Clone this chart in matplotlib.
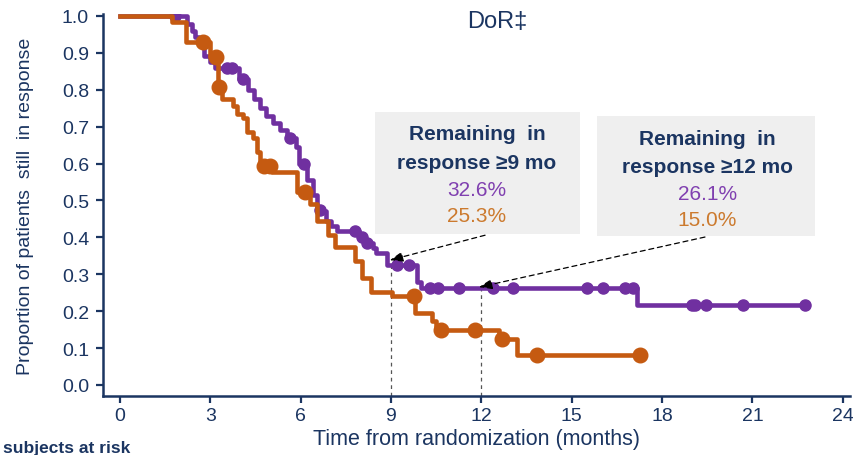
import matplotlib
matplotlib.use("Agg")
import matplotlib.pyplot as plt
from matplotlib.patches import Rectangle

plt.rcParams["font.family"] = ["Liberation Sans Narrow", "Liberation Sans", "DejaVu Sans"]

NAVY = "#1B3561"
PURPLE = "#7030A0"
ORANGE = "#C55A11"

# ---- Kaplan-Meier step data (time in months, proportion still in response) ----
purple_t = [0, 2.23, 2.39, 2.50, 2.62, 2.79, 3.00, 3.15, 3.95, 4.25, 4.45, 4.65, 4.85,
            5.10, 5.30, 5.55, 5.85, 5.95, 6.20, 6.40, 6.55, 6.75, 6.85, 7.00, 7.20,
            7.95, 8.15, 8.40, 8.50, 8.87, 9.85, 10.00, 17.16, 22.74]
purple_s = [1.0, 0.978, 0.959, 0.943, 0.920, 0.892, 0.875, 0.860, 0.830, 0.800, 0.775,
            0.750, 0.730, 0.710, 0.690, 0.670, 0.645, 0.600, 0.555, 0.515, 0.475, 0.470,
            0.445, 0.430, 0.416, 0.400, 0.384, 0.370, 0.357, 0.326, 0.280, 0.262, 0.216,
            0.216]
purple_cens_t = [1.83, 3.55, 3.72, 4.08, 5.64, 6.10, 6.64, 7.80, 8.05, 8.20, 9.20, 9.60,
                 10.29, 10.56, 11.25, 12.38, 13.05, 15.50, 16.03, 16.76, 17.03,
                 18.99, 19.09, 19.45, 20.68, 22.74]
purple_cens_s = [1.0, 0.86, 0.86, 0.83, 0.67, 0.60, 0.475, 0.416, 0.40, 0.384, 0.326, 0.326,
                 0.262, 0.262, 0.262, 0.262, 0.262, 0.262, 0.262, 0.262, 0.262,
                 0.216, 0.216, 0.216, 0.216, 0.216]

orange_t = [0, 1.73, 2.19, 3.00, 3.25, 3.40, 3.75, 3.88, 4.08, 4.22, 4.42, 4.55, 4.65,
            4.75, 5.05, 5.88, 6.30, 6.55, 6.90, 7.15, 7.80, 8.05, 8.35, 9.05, 9.80,
            10.35, 10.50, 12.60, 13.20, 17.26]
orange_s = [1.0, 0.984, 0.928, 0.889, 0.808, 0.776, 0.757, 0.735, 0.722, 0.686, 0.668,
            0.632, 0.605, 0.592, 0.578, 0.524, 0.490, 0.445, 0.405, 0.375, 0.335, 0.290,
            0.253, 0.240, 0.195, 0.173, 0.149, 0.125, 0.081, 0.081]
orange_cens_t = [2.75, 3.19, 3.30, 4.78, 5.00, 6.14, 9.75, 10.65, 11.78, 12.70, 13.85, 17.26]
orange_cens_s = [0.928, 0.889, 0.808, 0.592, 0.592, 0.524, 0.240, 0.149, 0.149, 0.125,
                 0.081, 0.081]

landmark_t = [9, 12]
landmark_purple = [0.326, 0.261]
landmark_orange = [0.253, 0.150]
x_ticks = [0, 3, 6, 9, 12, 15, 18, 21, 24]
y_ticks = [0.0, 0.1, 0.2, 0.3, 0.4, 0.5, 0.6, 0.7, 0.8, 0.9, 1.0]

fig = plt.figure(figsize=(8.54, 4.56), dpi=100)
ax = fig.add_axes([0.1206, 0.1294, 0.8744, 0.8376])

ax.step(purple_t, purple_s, where="post", color=PURPLE, lw=3.3, zorder=3)
ax.plot(purple_cens_t, purple_cens_s, "o", color=PURPLE, ms=8, zorder=4)
ax.step(orange_t, orange_s, where="post", color=ORANGE, lw=3.3, zorder=5)
ax.plot(orange_cens_t, orange_cens_s, "o", color=ORANGE, ms=10.5, zorder=6)

# dashed landmark lines
for t, s in zip(landmark_t, landmark_purple):
    ax.vlines(t, -0.03, s, colors="#555555", linestyles=(0, (3, 3)), lw=0.9, zorder=2)

ax.set_xlim(-0.56, 24.23)
ax.set_ylim(-0.03, 1.005)
ax.set_xticks(x_ticks)
ax.set_yticks(y_ticks)
ax.set_yticklabels([f"{v:.1f}" for v in y_ticks])
for side in ["top", "right"]:
    ax.spines[side].set_visible(False)
for side in ["left", "bottom"]:
    ax.spines[side].set_color(NAVY)
    ax.spines[side].set_linewidth(1.8)
ax.tick_params(colors=NAVY, width=1.6, length=5, labelsize=14, direction="out")
ax.tick_params(axis="y", pad=5)
ax.tick_params(axis="x", pad=3)
ax.set_xlabel("Time from randomization (months)", fontsize=15.5, color=NAVY, labelpad=3)
ax.set_ylabel("Proportion of patients  still  in response", fontsize=14, color=NAVY,
              labelpad=20)

fig.text(0.582, 0.952, "DoR\u2021", fontsize=17, color=NAVY, ha="center", va="center",
         family=["Liberation Sans", "DejaVu Sans"])
fig.text(0.003, 0.016, "subjects at risk", fontsize=12.5, color=NAVY, ha="left",
         va="center", fontweight="bold", family=["Liberation Sans", "DejaVu Sans"])

# annotation boxes
boxes = [(0.439, 0.4846, 0.240, 0.2675, 0.5585, "\u22659"),
         (0.699, 0.480, 0.255, 0.263, 0.828, "\u226512")]
for i, (x0, y0, w, h, cx, lab) in enumerate(boxes):
    fig.patches.append(Rectangle((x0, y0), w, h, transform=fig.transFigure,
                                 facecolor="#EFEFEF", edgecolor="none", zorder=0))
    top = y0 + h
    tf = dict(ha="center", va="center", family=["Liberation Sans", "DejaVu Sans"])
    fig.text(cx, top - 0.048, "Remaining  in", fontsize=15, color=NAVY,
             fontweight="bold", **tf)
    fig.text(cx, top - 0.11, f"response {lab} mo", fontsize=15, color=NAVY,
             fontweight="bold", **tf)
    fig.text(cx, top - 0.17, f"{landmark_purple[i] * 100:.1f}%", fontsize=15,
             color="#8040B0", **tf)
    fig.text(cx, top - 0.227, f"{landmark_orange[i] * 100:.1f}%", fontsize=15,
             color="#CC7A2E", **tf)

# dashed arrows from boxes to curve
arrow_starts = [(0.568, 0.482), (0.8255, 0.478)]
arrow_ends = [(8.96, 0.338), (11.92, 0.265)]
for st, en in zip(arrow_starts, arrow_ends):
    ax.annotate("", xy=en, xycoords="data", xytext=st, textcoords="figure fraction",
                arrowprops=dict(arrowstyle="-|>,head_length=0.8,head_width=0.3",
                                linestyle=(0, (4, 3)), color="black", lw=0.9,
                                shrinkA=0, shrinkB=0), zorder=7)

fig.savefig("out.png", dpi=100)
